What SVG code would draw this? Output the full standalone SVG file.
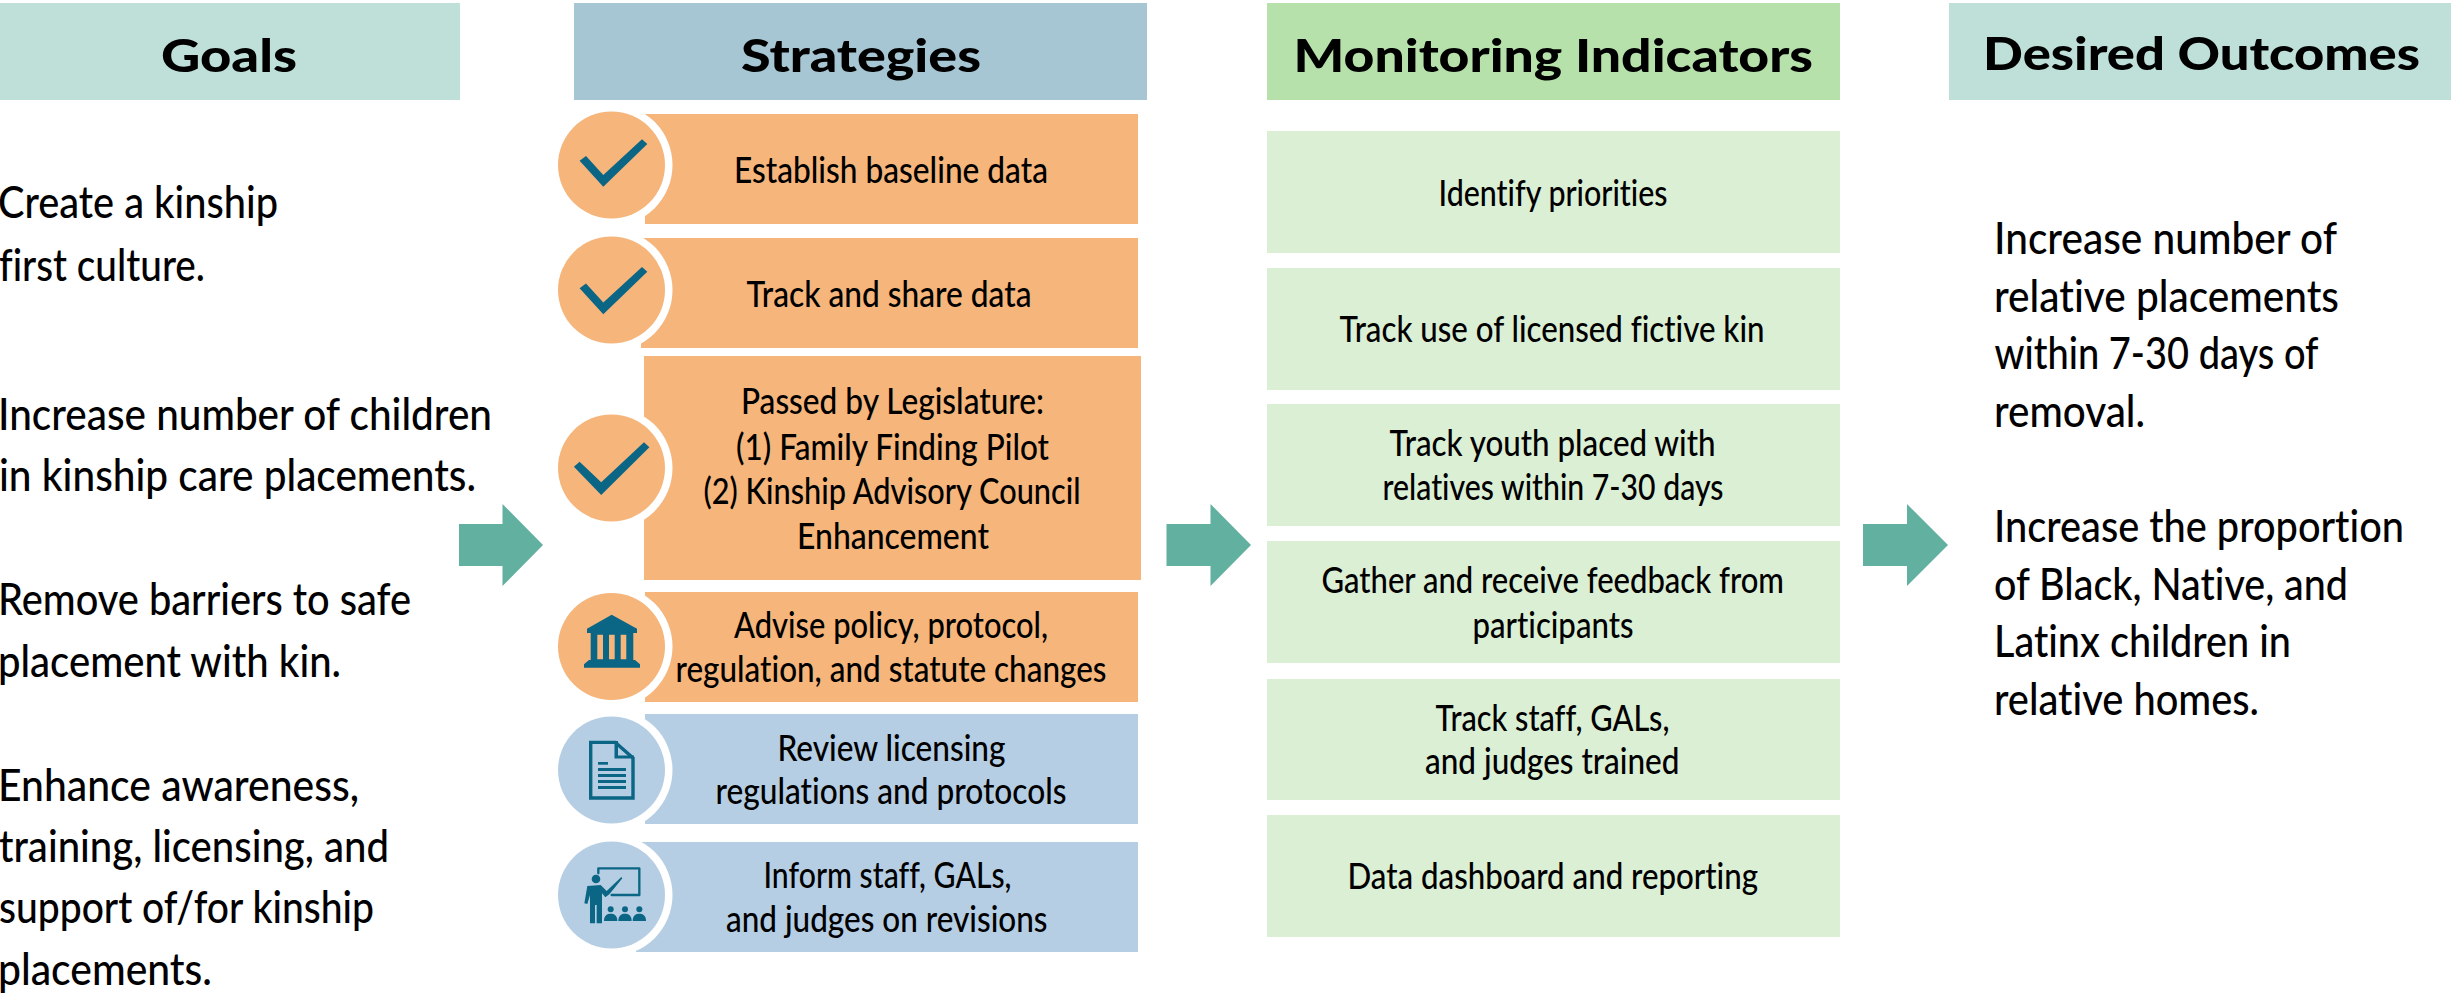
<svg xmlns="http://www.w3.org/2000/svg" width="2451" height="996" viewBox="0 0 2451 996">
<style>
text{font-family:"Lato","Noto Sans","Liberation Sans",sans-serif;fill:#000;font-variant-ligatures:none}
.h{font-size:46px;font-weight:900}
.g{font-size:45px;font-weight:500}
.b{font-size:36px;font-weight:500}
.or{fill:#F5B57B}.bl{fill:#B6CEE4}.gr{fill:#DBEFD5}
.ic{fill:#0B6585}
.ring{fill:#fff}
</style>
<rect width="2451" height="996" fill="#fff"/>
<g id="goals">
<rect x="0" y="3" width="460" height="97" fill="#BEE0D9"/>
<text class="h" x="161" y="71.5" textLength="136" lengthAdjust="spacingAndGlyphs">Goals</text>
<text class="g" x="-2" y="218" textLength="280" lengthAdjust="spacingAndGlyphs">Create a kinship</text>
<text class="g" x="-1" y="281" textLength="206" lengthAdjust="spacingAndGlyphs">first culture.</text>
<text class="g" x="-2" y="430" textLength="494" lengthAdjust="spacingAndGlyphs">Increase number of children</text>
<text class="g" x="-1" y="491" textLength="477" lengthAdjust="spacingAndGlyphs">in kinship care placements.</text>
<text class="g" x="-2" y="615" textLength="413" lengthAdjust="spacingAndGlyphs">Remove barriers to safe</text>
<text class="g" x="-2" y="677" textLength="343" lengthAdjust="spacingAndGlyphs">placement with kin.</text>
<text class="g" x="-2" y="800.5" textLength="361" lengthAdjust="spacingAndGlyphs">Enhance awareness,</text>
<text class="g" x="-1" y="861.5" textLength="390" lengthAdjust="spacingAndGlyphs">training, licensing, and</text>
<text class="g" x="-1" y="923" textLength="375" lengthAdjust="spacingAndGlyphs">support of/for kinship</text>
<text class="g" x="-2" y="985" textLength="214" lengthAdjust="spacingAndGlyphs">placements.</text>
</g>
<g id="connectors" fill="#62B0A0">
<polygon points="459,524 502.5,524 502.5,504 543,545 502.5,586 502.5,566 459,566"/>
<polygon points="1166.5,524 1210.5,524 1210.5,504 1251,545 1210.5,586 1210.5,566 1166.5,566"/>
<polygon points="1863,524 1907,524 1907,504 1948,545 1907,586 1907,566 1863,566"/>
</g>
<g id="strategies-header">
<rect x="574" y="3" width="573" height="97" fill="#A5C6D2"/>
<text class="h" x="741" y="71.5" textLength="240" lengthAdjust="spacingAndGlyphs">Strategies</text>
</g>
<g id="s1">
<rect class="or" x="645" y="114" width="493" height="110"/>
<circle class="ring" cx="611.5" cy="165" r="61"/><circle class="or" cx="611.5" cy="165" r="53.5"/>
<polygon class="ic" points="579.6,160.7 603.3,186.7 647.3,144 642,139.3 603.3,175 586,156"/>
<text class="b" x="734" y="182.5" textLength="314" lengthAdjust="spacingAndGlyphs">Establish baseline data</text>
</g>
<g id="s2">
<rect class="or" x="641" y="238" width="497" height="110"/>
<circle class="ring" cx="611.5" cy="290" r="61"/><circle class="or" cx="611.5" cy="290" r="53.5"/>
<polygon class="ic" points="579.6,288.3 603.3,314.3 647.3,271.7 642,267 603.3,302.6 586,283.6"/>
<text class="b" x="746.5" y="306.5" textLength="285" lengthAdjust="spacingAndGlyphs">Track and share data</text>
</g>
<g id="s3">
<rect class="or" x="644" y="356" width="497" height="224"/>
<circle class="ring" cx="611.5" cy="468" r="61"/><circle class="or" cx="611.5" cy="468" r="53.5"/>
<polygon class="ic" points="573.9,466.7 601.2,495 649.4,447.3 644,442.3 601.2,482.3 579.6,461.7"/>
<text class="b" x="741" y="414" textLength="303" lengthAdjust="spacingAndGlyphs">Passed by Legislature:</text>
<text class="b" x="736" y="460" textLength="313" lengthAdjust="spacingAndGlyphs">(1) Family Finding Pilot</text>
<text class="b" x="703.5" y="504" textLength="377" lengthAdjust="spacingAndGlyphs">(2) Kinship Advisory Council</text>
<text class="b" x="797" y="549" textLength="192" lengthAdjust="spacingAndGlyphs">Enhancement</text>
</g>
<g id="s4">
<rect class="or" x="645" y="592" width="493" height="110"/>
<circle class="ring" cx="611.5" cy="646.5" r="61"/><circle class="or" cx="611.5" cy="646.5" r="53.5"/>
<path class="ic" fill-rule="evenodd" d="M611.7,614.7 L637,628.7 L637,633 L633.3,633 L633.3,660 L635,660 L640,664.3 L640,667.7 L584,667.7 L584,664.3 L589,660 L590.7,660 L590.7,633 L587,633 L587,628.7 Z M597.3,634.7 V659.3 H603 V634.7 Z M609,634.7 V659.3 H614.7 V634.7 Z M620.7,634.7 V659.3 H626.3 V634.7 Z"/>
<text class="b" x="734" y="638" textLength="314" lengthAdjust="spacingAndGlyphs">Advise policy, protocol,</text>
<text class="b" x="675.5" y="682" textLength="431" lengthAdjust="spacingAndGlyphs">regulation, and statute changes</text>
</g>
<g id="s5">
<rect class="bl" x="645" y="714" width="493" height="110"/>
<circle class="ring" cx="611.5" cy="770" r="61"/><circle class="bl" cx="611.5" cy="770" r="53.5"/>
<path fill="none" stroke="#0B6585" stroke-width="3.4" d="M590.7,742.4 H615.4 L633,758 V798 H590.7 Z"/>
<polygon points="614.5,741 618,741 618,755.5 634,755.5 634,758.5 614.5,758.5" class="ic"/>
<g class="ic"><rect x="598" y="762" width="10" height="2.7"/><rect x="598" y="768" width="28" height="3"/><rect x="598" y="774" width="28" height="3"/><rect x="598" y="780" width="28" height="3"/><rect x="598" y="786" width="28" height="3"/></g>
<text class="b" x="777.5" y="760.5" textLength="228" lengthAdjust="spacingAndGlyphs">Review licensing</text>
<text class="b" x="715.5" y="804" textLength="351" lengthAdjust="spacingAndGlyphs">regulations and protocols</text>
</g>
<g id="s6">
<rect class="bl" x="636" y="842" width="502" height="110"/>
<circle class="ring" cx="611.5" cy="895" r="61"/><circle class="bl" cx="611.5" cy="895" r="53.5"/>
<g transform="translate(570 855) scale(.33333)">
<path d="M85,55 V40 H208 V120 H125" fill="none" stroke="#0B6585" stroke-width="7" stroke-linejoin="round" stroke-linecap="round"/>
<g class="ic">
<circle cx="78" cy="72" r="13"/>
<path d="M52,93 L92,90 L110,108 L154,66 L157,70 L118,118 L106,127 L96,115 V205 H80 V150 H75 V205 H60 V120 L52,147 L43,145 Z"/>
<circle cx="122" cy="163" r="9"/><path d="M102,198 C102,180 112,176 122,176 C132,176 142,180 142,198 Z"/>
<circle cx="165" cy="163" r="9"/><path d="M145,198 C145,180 155,176 165,176 C175,176 185,180 185,198 Z"/>
<circle cx="208" cy="163" r="9"/><path d="M188,198 C188,180 198,176 208,176 C218,176 228,180 228,198 Z"/>
</g>
</g>
<text class="b" x="763.5" y="887.5" textLength="248" lengthAdjust="spacingAndGlyphs">Inform staff, GALs,</text>
<text class="b" x="726" y="932" textLength="321.5" lengthAdjust="spacingAndGlyphs">and judges on revisions</text>
</g>
<g id="monitoring-header">
<rect x="1267" y="3" width="573" height="97" fill="#B7E1AB"/>
<text class="h" x="1293.5" y="71.5" textLength="519.5" lengthAdjust="spacingAndGlyphs">Monitoring Indicators</text>
</g>
<g id="m1"><rect class="gr" x="1267" y="131" width="573" height="122"/>
<text class="b" x="1438.5" y="205.5" textLength="229" lengthAdjust="spacingAndGlyphs">Identify priorities</text></g>
<g id="m2"><rect class="gr" x="1267" y="268" width="573" height="122"/>
<text class="b" x="1339.5" y="341.5" textLength="425" lengthAdjust="spacingAndGlyphs">Track use of licensed fictive kin</text></g>
<g id="m3"><rect class="gr" x="1267" y="404" width="573" height="122"/>
<text class="b" x="1389.5" y="456" textLength="326" lengthAdjust="spacingAndGlyphs">Track youth placed with</text>
<text class="b" x="1382.5" y="500" textLength="341" lengthAdjust="spacingAndGlyphs">relatives within 7-30 days</text></g>
<g id="m4"><rect class="gr" x="1267" y="541" width="573" height="122"/>
<text class="b" x="1321.5" y="593" textLength="462.5" lengthAdjust="spacingAndGlyphs">Gather and receive feedback from</text>
<text class="b" x="1472.5" y="638" textLength="161" lengthAdjust="spacingAndGlyphs">participants</text></g>
<g id="m5"><rect class="gr" x="1267" y="679" width="573" height="121"/>
<text class="b" x="1435.5" y="730.5" textLength="234" lengthAdjust="spacingAndGlyphs">Track staff, GALs,</text>
<text class="b" x="1425" y="774" textLength="254.5" lengthAdjust="spacingAndGlyphs">and judges trained</text></g>
<g id="m6"><rect class="gr" x="1267" y="815" width="573" height="122"/>
<text class="b" x="1347.5" y="889" textLength="410.5" lengthAdjust="spacingAndGlyphs">Data dashboard and reporting</text></g>
<g id="outcomes">
<rect x="1949" y="3" width="502" height="97" fill="#BEE0D9"/>
<text class="h" x="1983" y="70" textLength="437" lengthAdjust="spacingAndGlyphs">Desired Outcomes</text>
<text class="g" x="1994" y="254" textLength="343" lengthAdjust="spacingAndGlyphs">Increase number of</text>
<text class="g" x="1994" y="311.5" textLength="345" lengthAdjust="spacingAndGlyphs">relative placements</text>
<text class="g" x="1994.5" y="368.5" textLength="324" lengthAdjust="spacingAndGlyphs">within 7-30 days of</text>
<text class="g" x="1994" y="426.5" textLength="151" lengthAdjust="spacingAndGlyphs">removal.</text>
<text class="g" x="1994" y="541.5" textLength="410" lengthAdjust="spacingAndGlyphs">Increase the proportion</text>
<text class="g" x="1994" y="600" textLength="354" lengthAdjust="spacingAndGlyphs">of Black, Native, and</text>
<text class="g" x="1994" y="657" textLength="297" lengthAdjust="spacingAndGlyphs">Latinx children in</text>
<text class="g" x="1994" y="715" textLength="265" lengthAdjust="spacingAndGlyphs">relative homes.</text>
</g>
</svg>
